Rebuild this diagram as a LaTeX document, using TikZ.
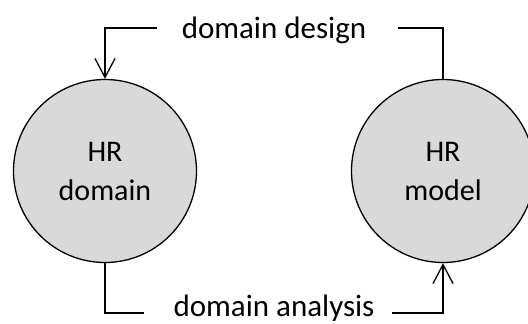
\documentclass[tikz,border=0pt]{standalone}
\usepackage{fontspec}
\setmainfont{Carlito}
\usetikzlibrary{arrows.meta}
\begin{document}
\begin{tikzpicture}[x=1pt,y=1pt,
  state/.style={circle,draw,line width=1.3pt,fill=black!15,minimum size=183pt,
    inner sep=0pt,align=center,font=\fontsize{30}{39}\selectfont},
  label/.style={inner sep=0pt,text depth=0pt,anchor=base,font=\fontsize{31}{33}\selectfont},
  flow/.style={line width=1.3pt},
  tip/.style={-{Straight Barb[length=19pt,width=20pt,line width=1.3pt]}}]
\useasboundingbox (0,0) rectangle (528,324);
\node[state] (dom) at (105,153) {HR\\domain};
\node[state] (mod) at (443,153) {HR\\model};
\node[label,text height=20.6pt] (design) at (274,285.7) {domain design};
\node[label,text height=8pt] (analysis) at (274,7) {domain analysis};
\draw[flow,tip] ([xshift=-25pt]design.west) -| (dom.north);
\draw[flow] ([xshift=32pt]design.east) -| (mod.north);
\draw[flow] (dom.south) |- ([xshift=-29pt]analysis.west);
\draw[flow,tip] ([xshift=17pt]analysis.east) -| (mod.south);
\end{tikzpicture}
\end{document}
